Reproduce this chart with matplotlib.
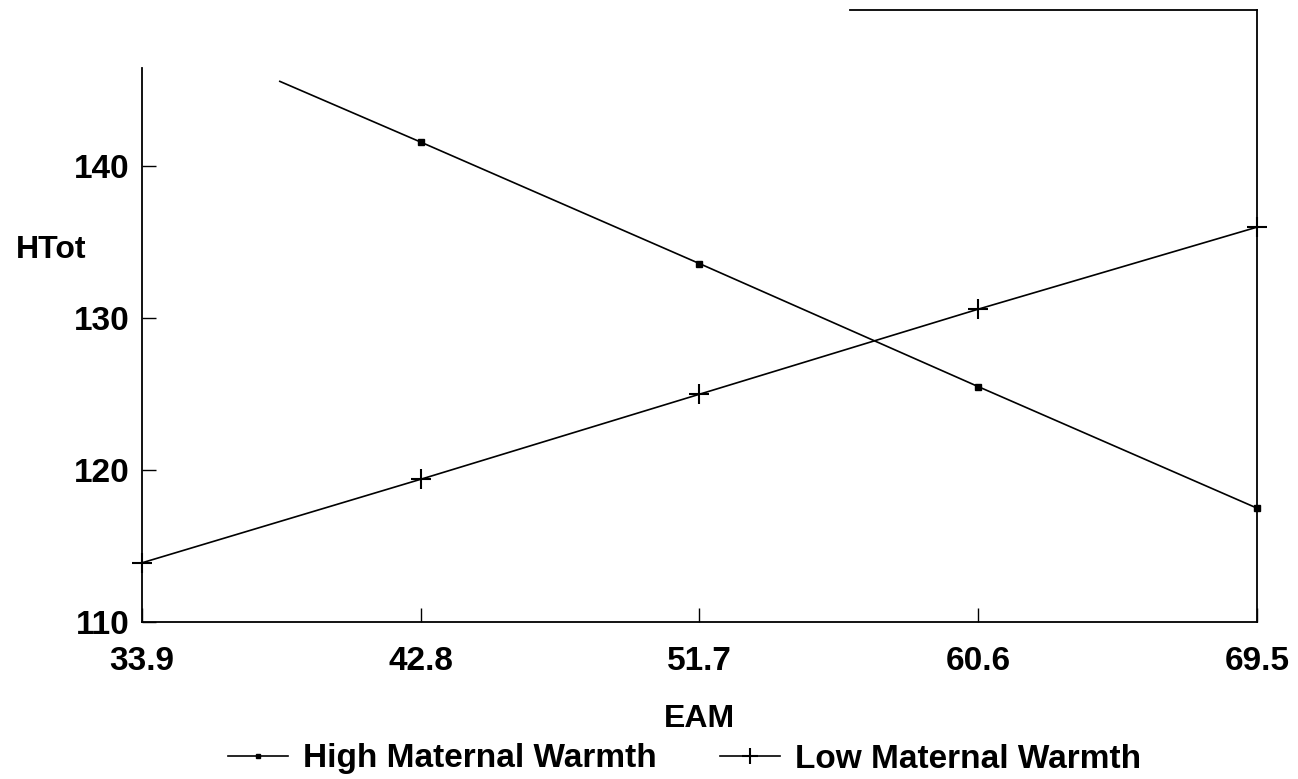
import matplotlib
matplotlib.use("Agg")
import matplotlib.pyplot as plt

# EAM levels on the x axis
eam = [33.9, 42.8, 51.7, 60.6, 69.5]
ytick_vals = [110, 120, 130, 140]

# High maternal warmth: line enters the plot around EAM 38.3
high_x = [38.3, 42.8, 51.7, 60.6, 69.5]
high_y = [145.6, 141.6, 133.6, 125.5, 117.5]

# Low maternal warmth
low_x = eam
low_y = [113.9, 119.4, 125.0, 130.6, 136.0]

plt.rcParams['font.family'] = ['Liberation Sans', 'DejaVu Sans']
plt.rcParams['font.weight'] = 'bold'
plt.rcParams['axes.labelweight'] = 'bold'

fig = plt.figure(figsize=(12.98, 7.79), dpi=100)
ax = fig.add_axes([0.1094, 0.2015, 0.859, 0.7857])

ax.plot(high_x, high_y, color='black', lw=1.2, marker='s', markersize=4,
        markevery=[1, 2, 3, 4], clip_on=False, label='High Maternal Warmth')
ax.plot(low_x, low_y, color='black', lw=1.2, marker='+', markersize=14,
        markeredgewidth=1.5, clip_on=False, label='Low Maternal Warmth')

ax.set_xlim(33.9, 69.5)
ax.set_ylim(110, 150.3)
ax.set_xticks(eam)
ax.set_xticklabels([str(v) for v in eam])
ax.set_yticks(ytick_vals)

ax.tick_params(direction='in', length=10, width=1.0, labelsize=24, color='black')
ax.tick_params(axis='x', pad=17)
ax.tick_params(axis='y', pad=9)

# odd broken frame of the original scan
for s in ax.spines.values():
    s.set_linewidth(1.3)
ax.spines['left'].set_bounds(110, 146.5)
ax.spines['top'].set_bounds(56.5, 69.5)

ax.set_xlabel('EAM', fontsize=23, labelpad=20)
ax.set_ylabel('HTot', fontsize=23, rotation=0, ha='center', va='center')
ax.yaxis.set_label_coords(-0.0816, 0.608)

leg = fig.legend(loc='center', bbox_to_anchor=(685 / 1298, 1 - 759 / 779), ncol=2,
                 frameon=False, fontsize=24, handlelength=1.8, handletextpad=0.45,
                 columnspacing=1.9, markerscale=0.8)

fig.savefig('out.png', dpi=100)
